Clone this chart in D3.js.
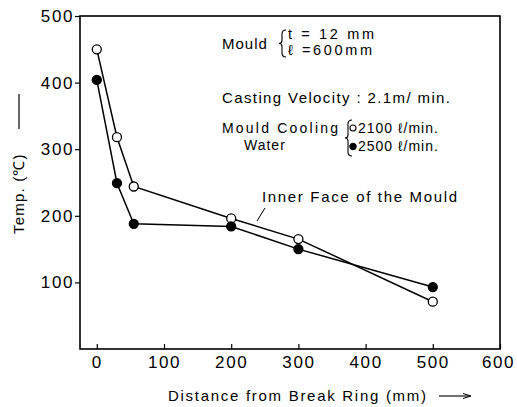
<!DOCTYPE html>
<html>
<head>
<meta charset="utf-8">
<script src="https://cdn.jsdelivr.net/npm/d3@7"></script>
<style>
  body { margin: 0; background: #fff; }
  svg { font-family: "Liberation Sans", Arial, sans-serif; }
</style>
</head>
<body>
<svg id="chart" width="517" height="407"></svg>
<script>
// distance from break ring (mm)
const distance = [0, 30, 55, 200, 300, 500];
// temperature, mould cooling water 2100 l/min (open circles)
const temp2100 = [450, 318, 244, 196, 165, 71];
// temperature, mould cooling water 2500 l/min (filled circles)
const temp2500 = [404, 249, 188, 184, 150, 93];

const xTicks = [0, 100, 200, 300, 400, 500, 600];
const yTicks = [100, 200, 300, 400, 500];

const margin = { top: 16, right: 17, bottom: 58, left: 80 };
const width = 517, height = 407;

const svg = d3.select("#chart");

const x = d3.scaleLinear().domain([-25, 600]).range([margin.left, width - margin.right]);
const y = d3.scaleLinear().domain([0, 500]).range([height - margin.bottom, margin.top]);

// frame
svg.append("rect")
    .attr("x", x(-25)).attr("y", y(500))
    .attr("width", x(600) - x(-25)).attr("height", y(0) - y(500))
    .attr("fill", "none").attr("stroke", "#000").attr("stroke-width", 1.6);

// axes
const xAxis = svg.append("g")
    .attr("transform", `translate(0, ${y(0)})`)
    .call(d3.axisBottom(x).tickValues(xTicks).tickSize(-5).tickPadding(7));
const yAxis = svg.append("g")
    .attr("transform", `translate(${x(-25)}, 0)`)
    .call(d3.axisLeft(y).tickValues(yTicks).tickSize(5).tickPadding(1));

[xAxis, yAxis].forEach(a => {
    a.select(".domain").remove();
    a.selectAll("line").attr("stroke", "#000").attr("stroke-width", 1.2);
    a.selectAll("text")
        .attr("fill", "#000")
        .style("font-size", "17px")
        .style("letter-spacing", "1.6px")
        .style("font-family", "'Liberation Sans', Arial, sans-serif");
});
// keep the last label inside the window
xAxis.selectAll("text").filter(d => d === 600).attr("dx", "-2px");

// lines
const line = d3.line().x(d => x(d[0])).y(d => y(d[1]));
const series = [
    { vals: temp2100, filled: false },
    { vals: temp2500, filled: true }
];
series.forEach(s => {
    const pts = distance.map((d, i) => [d, s.vals[i]]);
    svg.append("path")
        .datum(pts)
        .attr("d", line)
        .attr("fill", "none")
        .attr("stroke", "#000")
        .attr("stroke-width", 1.5);
});
series.forEach(s => {
    const pts = distance.map((d, i) => [d, s.vals[i]]);
    svg.append("g").selectAll("circle")
        .data(pts)
        .join("circle")
        .attr("cx", d => x(d[0]))
        .attr("cy", d => y(d[1]))
        .attr("r", 4.5)
        .attr("fill", s.filled ? "#000" : "#fff")
        .attr("stroke", "#000")
        .attr("stroke-width", 1.3);
});

// annotations
const ann = svg.append("g").attr("fill", "#000")
    .style("font-size", "15px").style("letter-spacing", "1px");
ann.append("text").attr("x", 222).attr("y", 49).text("Mould");
ann.append("text").attr("x", 288).attr("y", 39).style("font-size", "14.5px")
    .attr("textLength", 87).attr("lengthAdjust", "spacing")
    .text("t = 12 mm");
ann.append("text").attr("x", 288).attr("y", 55).style("font-size", "14.5px")
    .attr("textLength", 85).attr("lengthAdjust", "spacing")
    .text("\u2113 =600mm");
ann.append("text").attr("x", 222).attr("y", 103)
    .attr("textLength", 229).attr("lengthAdjust", "spacing")
    .text("Casting Velocity : 2.1m/ min.");
ann.append("text").attr("x", 222).attr("y", 133).style("font-size", "14px")
    .attr("textLength", 117).attr("lengthAdjust", "spacing")
    .text("Mould Cooling");
ann.append("text").attr("x", 244).attr("y", 150).style("font-size", "14px").text("Water");
ann.append("text").attr("x", 358).attr("y", 133).style("font-size", "14px").text("2100 \u2113/min.");
ann.append("text").attr("x", 358).attr("y", 151).style("font-size", "14px").text("2500 \u2113/min.");
ann.append("text").attr("x", 262).attr("y", 202)
    .attr("textLength", 196).attr("lengthAdjust", "spacing")
    .text("Inner Face of the Mould");

// braces
function brace(xp, y0, y1) {
    const m = (y0 + y1) / 2;
    svg.append("path")
        .attr("d", `M${xp + 4},${y0} Q${xp},${y0} ${xp},${y0 + 4} L${xp},${m - 3} Q${xp},${m} ${xp - 3},${m} Q${xp},${m} ${xp},${m + 3} L${xp},${y1 - 4} Q${xp},${y1} ${xp + 4},${y1}`)
        .attr("fill", "none").attr("stroke", "#000").attr("stroke-width", 1.1);
}
brace(282, 30, 57);
brace(348, 120, 156);

// legend markers
svg.append("circle").attr("cx", 353).attr("cy", 128).attr("r", 3)
    .attr("fill", "#fff").attr("stroke", "#000").attr("stroke-width", 1.1);
svg.append("circle").attr("cx", 353).attr("cy", 146.5).attr("r", 3.3)
    .attr("fill", "#000").attr("stroke", "#000");

// leader line for "Inner Face of the Mould"
svg.append("line")
    .attr("x1", 265).attr("y1", 208).attr("x2", 257).attr("y2", 221)
    .attr("stroke", "#000").attr("stroke-width", 1);

// axis titles
svg.append("text")
    .attr("transform", "translate(24, 234) rotate(-90)")
    .style("font-size", "15px").style("letter-spacing", "1.2px")
    .text("Temp. (\u2103)");
svg.append("line")
    .attr("x1", 19).attr("y1", 94).attr("x2", 19).attr("y2", 129)
    .attr("stroke", "#000").attr("stroke-width", 1.2);

svg.append("text")
    .attr("x", 168).attr("y", 401)
    .attr("textLength", 258).attr("lengthAdjust", "spacing")
    .style("font-size", "15px")
    .text("Distance from Break Ring (mm)");
svg.append("line")
    .attr("x1", 439).attr("y1", 396).attr("x2", 470).attr("y2", 396)
    .attr("stroke", "#000").attr("stroke-width", 1.1);
svg.append("path")
    .attr("d", "M463,393.5 L471,396 L463,398.5")
    .attr("fill", "none").attr("stroke", "#000").attr("stroke-width", 1);
</script>
</body>
</html>
